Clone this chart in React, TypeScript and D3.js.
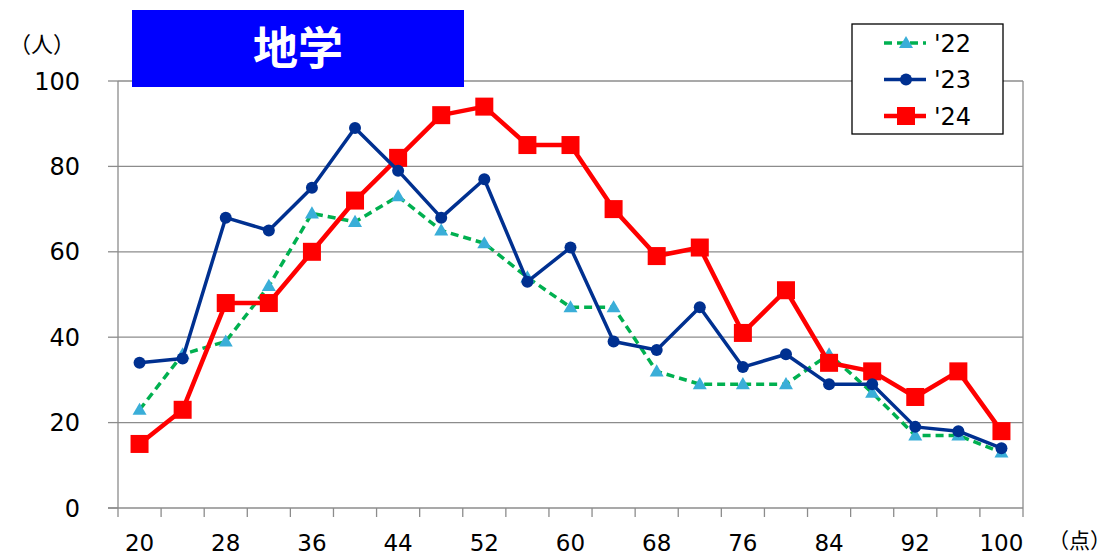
import React from 'react';
import * as d3 from 'd3';

// chart data
const categories = ['20', '24', '28', '32', '36', '40', '44', '48', '52', '56', '60', '64', '68', '72', '76', '80', '84', '88', '92', '96', '100'];
const xLabels = ['20', '28', '36', '44', '52', '60', '68', '76', '84', '92', '100'];
const yTicks = [0, 20, 40, 60, 80, 100];
const values22 = [23, 36, 39, 52, 69, 67, 73, 65, 62, 54, 47, 47, 32, 29, 29, 29, 36, 27, 17, 17, 13];
const values23 = [34, 35, 68, 65, 75, 89, 79, 68, 77, 53, 61, 39, 37, 47, 33, 36, 29, 29, 19, 18, 14];
const values24 = [15, 23, 48, 48, 60, 72, 82, 92, 94, 85, 85, 70, 59, 61, 41, 51, 34, 32, 26, 32, 18];
const seriesNames = ["'22", "'23", "'24"];

const W = 1105;
const H = 557;
const margin = { top: 81, right: 82, bottom: 49, left: 118 };
const plotW = W - margin.left - margin.right;
const plotH = H - margin.top - margin.bottom;

const font = '"DejaVu Sans", Verdana, sans-serif';
const cjk = '"Noto Sans CJK JP", "Noto Sans", sans-serif';
const gray = '#8c8c8c';

const x = d3.scaleBand<string>().domain(categories).range([0, plotW]).paddingInner(0).paddingOuter(0);
const y = d3.scaleLinear().domain([0, 100]).range([plotH, 0]);
const cx = (c: string) => (x(c) as number) + x.bandwidth() / 2;

const line = d3
  .line<number>()
  .x((_, i) => cx(categories[i]))
  .y(d => y(d));

const triangle = d3.symbol(d3.symbolTriangle, 85)();

const series = [
  { name: seriesNames[0], values: values22, stroke: '#00b050', width: 3.5, dash: '8,5', marker: 'tri', fill: '#3aaed8' },
  { name: seriesNames[1], values: values23, stroke: '#003090', width: 3.5, dash: null, marker: 'circle', fill: '#003090' },
  { name: seriesNames[2], values: values24, stroke: '#ff0000', width: 4.5, dash: null, marker: 'square', fill: '#ff0000' },
];
// draw order: '22, '24, '23
const drawOrder = [series[0], series[2], series[1]];

function Marker({ kind, fill, px, py }: { kind: string; fill: string; px: number; py: number }) {
  if (kind === 'tri') return <path d={triangle as string} transform={`translate(${px},${py + 1})`} fill={fill} />;
  if (kind === 'circle') return <circle cx={px} cy={py} r={6} fill={fill} />;
  return <rect x={px - 9} y={py - 9} width={18} height={18} fill={fill} />;
}

export default function App() {
  const boundaries = categories.map(c => x(c) as number).concat([plotW]);

  return (
    <svg width={W} height={H} style={{ position: 'absolute', left: 0, top: 0, background: '#fff' }}>
      <g transform={`translate(${margin.left},${margin.top})`}>
        {/* grid */}
        {yTicks.filter(t => t > 0).map(t => (
          <line key={t} x1={0} x2={plotW} y1={y(t)} y2={y(t)} stroke={gray} strokeWidth={1.3} />
        ))}
        <line x1={plotW} x2={plotW} y1={0} y2={plotH} stroke={gray} strokeWidth={1.3} />
        {/* y axis */}
        <line x1={0} x2={0} y1={0} y2={plotH} stroke={gray} strokeWidth={1.3} />
        {yTicks.map(t => (
          <g key={t}>
            <line x1={-10} x2={0} y1={y(t)} y2={y(t)} stroke={gray} strokeWidth={1.3} />
            <text x={-38} y={y(t)} dy="0.36em" textAnchor="end" fontFamily={font} fontSize={24} fill="#000">
              {t}
            </text>
          </g>
        ))}
        {/* x axis */}
        <line x1={-10} x2={plotW} y1={plotH} y2={plotH} stroke={gray} strokeWidth={1.3} />
        {boundaries.map((b, i) => (
          <line key={i} x1={b} x2={b} y1={plotH} y2={plotH + 9} stroke={gray} strokeWidth={1.3} />
        ))}
        {xLabels.map(l => (
          <text key={l} x={cx(l)} y={plotH + 35} dy="0.36em" textAnchor="middle" fontFamily={font} fontSize={23} fill="#000">
            {l}
          </text>
        ))}
        {/* series */}
        {drawOrder.map(s => (
          <g key={s.name}>
            <path d={line(s.values) as string} fill="none" stroke={s.stroke} strokeWidth={s.width} strokeDasharray={s.dash ?? undefined} strokeLinejoin="round" />
            {s.values.map((v, i) => (
              <Marker key={i} kind={s.marker} fill={s.fill} px={cx(categories[i])} py={y(v)} />
            ))}
          </g>
        ))}
      </g>

      {/* title */}
      <rect x={132} y={10} width={332} height={77} fill="#0000ff" />
      <text x={298} y={49} dy="0.36em" textAnchor="middle" fontFamily={cjk} fontWeight="bold" fontSize={45} fill="#fff">
        地学
      </text>

      {/* unit labels */}
      <text x={9} y={44} dy="0.36em" fontFamily={cjk} fontSize={22} fill="#000">（人）</text>
      <text x={1048} y={540} dy="0.36em" fontFamily={cjk} fontSize={21} fill="#000">（点）</text>

      {/* legend */}
      <rect x={852} y={24} width={151} height={110} fill="#fff" stroke="#000" strokeWidth={1.3} />
      {series.map((s, i) => {
        const ly = 43 + i * 36.5;
        return (
          <g key={s.name}>
            <line x1={884} x2={926} y1={ly} y2={ly} stroke={s.stroke} strokeWidth={s.width} strokeDasharray={s.dash ?? undefined} />
            <Marker kind={s.marker} fill={s.fill} px={906} py={ly} />
            <text x={934} y={ly} dy="0.36em" fontFamily={font} fontSize={24} fill="#000">
              {s.name}
            </text>
          </g>
        );
      })}
    </svg>
  );
}
